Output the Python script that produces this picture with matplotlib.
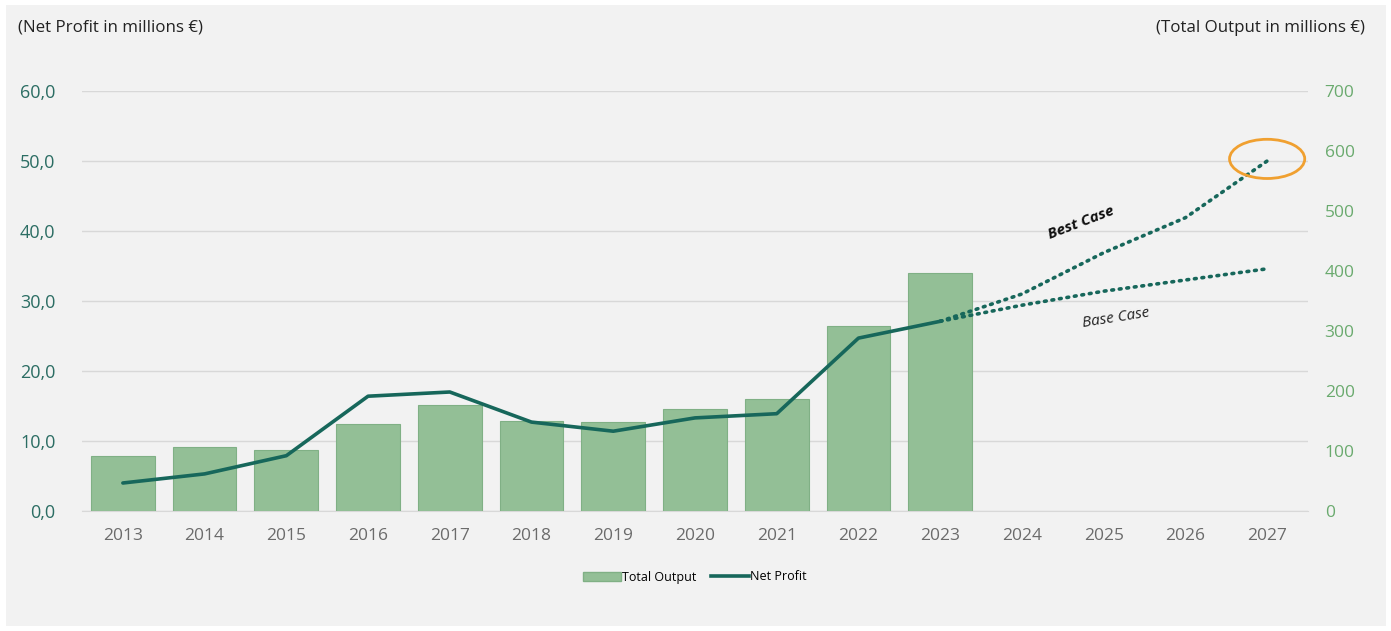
import matplotlib.pyplot as plt
from matplotlib.patches import Rectangle, Ellipse, Patch
from matplotlib.lines import Line2D
from matplotlib.ticker import FuncFormatter

plt.rcParams['font.family'] = ['Open Sans', 'DejaVu Sans']

# data
years = ["2013", "2014", "2015", "2016", "2017", "2018", "2019", "2020",
         "2021", "2022", "2023", "2024", "2025", "2026", "2027"]
total_output = [92, 107, 102, 145, 177, 150, 148, 170, 187, 308, 397]
net_profit = [4.0, 5.3, 7.9, 16.4, 17.0, 12.7, 11.4, 13.3, 13.9, 24.7, 27.1]
best_case = [27.1, 31.0, 36.9, 41.9, 50.0]
base_case = [27.1, 29.4, 31.4, 33.0, 34.6]

bar_col = "#93bf96"
bar_edge = "#80b085"
line_col = "#17675b"
bg = "#f2f2f2"

fig = plt.figure(figsize=(13.91, 6.31), dpi=100, facecolor="white")
fig.patches.append(Rectangle((6 / 1391, 5 / 631), 1380 / 1391, 621 / 631,
                             transform=fig.transFigure, facecolor=bg,
                             edgecolor="none", zorder=-10))

# ax: left scale + grid (behind), ax2: bars and lines on top
ax = fig.add_axes([82 / 1391, 120 / 631, 1226 / 1391, 420 / 631])
ax2 = ax.twinx()
ax.patch.set_visible(False)
ax2.patch.set_visible(False)

ax.set_xlim(-0.5, len(years) - 0.5)
ax.set_ylim(0, 60)
ax2.set_ylim(0, 700)

x_hist = list(range(len(total_output)))
ax2.bar(x_hist, total_output, width=0.78, color=bar_col, edgecolor=bar_edge,
        linewidth=0.8, zorder=2)
ax2.plot(x_hist, net_profit, color=line_col, linewidth=2.6,
         solid_capstyle="round", transform=ax.transData, zorder=3)

x_fc = list(range(len(total_output) - 1, len(years)))
for fc in (best_case, base_case):
    ax2.plot(x_fc, fc, color=line_col, linewidth=2.6, linestyle=(0, (0.5, 1.6)),
             dash_capstyle="round", transform=ax.transData, zorder=3)

ax2.add_patch(Ellipse((14.0, 50.3), 0.92, 5.6, fill=False, edgecolor="#f0a030",
                      linewidth=2.0, transform=ax.transData, zorder=4))

ax2.text(11.72, 41.2, "Best Case", fontsize=11, fontweight="bold", style="italic",
         rotation=21, ha="center", va="center", color="#111111",
         transform=ax.transData)
ax2.text(12.15, 27.6, "Base Case", fontsize=11, style="italic",
         rotation=9, ha="center", va="center", color="#222222",
         transform=ax.transData)

ax2.set_xlim(-0.5, len(years) - 0.5)
ax2.set_ylim(0, 700)
ax.set_yticks(range(0, 61, 10))
ax2.set_yticks(range(0, 701, 100))
ax.set_xticks(range(len(years)))
ax.set_xticklabels(years)
ax.yaxis.set_major_formatter(FuncFormatter(lambda v, p: f"{v:.1f}".replace(".", ",")))

ax.grid(axis="y", color="#d8d8d8", linewidth=1.0)
for a in (ax, ax2):
    for s in a.spines.values():
        s.set_visible(False)
ax.spines["bottom"].set_visible(True)
ax.spines["bottom"].set_color("#d8d8d8")

ax.tick_params(axis="y", length=0, pad=19, labelsize=13, labelcolor="#2b6d63")
ax2.tick_params(axis="y", length=0, pad=12, labelsize=12.5, labelcolor="#6aaa6e")
ax.tick_params(axis="x", length=0, pad=12, labelsize=12.5, labelcolor="#6b6b6b")

fig.text(18 / 1391, 1 - 28 / 631, "(Net Profit in millions €)", fontsize=12.2,
         ha="left", va="center", color="#222222")
fig.text(1365 / 1391, 1 - 28 / 631, "(Total Output in millions €)", fontsize=12.2,
         ha="right", va="center", color="#222222")

handles = [Patch(facecolor=bar_col, edgecolor=bar_edge),
           Line2D([0], [0], color=line_col, linewidth=2.6)]
fig.legend(handles, ["Total Output", "Net Profit"], loc="center",
           bbox_to_anchor=(695 / 1391, 1 - 577 / 631), ncol=2, frameon=False,
           fontsize=9, handlelength=3.0, handletextpad=0.1, columnspacing=1.2)

plt.savefig("out.png", dpi=100, facecolor=fig.get_facecolor())
